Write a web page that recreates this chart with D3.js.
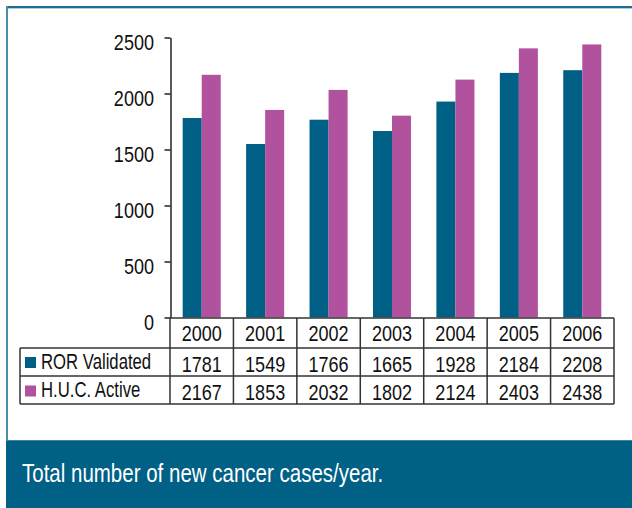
<!DOCTYPE html>
<html>
<head>
<meta charset="utf-8">
<script src="https://cdn.jsdelivr.net/npm/d3@7"></script>
<style>
  body { margin: 0; background: #fff; }
  svg { display: block; }
  text { font-family: "Liberation Sans", Arial, sans-serif; }
</style>
</head>
<body>
<div id="chart"></div>
<script>
const years = ["2000", "2001", "2002", "2003", "2004", "2005", "2006"];
const seriesNames = ["ROR Validated", "H.U.C. Active"];
const rorValues = [1781, 1549, 1766, 1665, 1928, 2184, 2208];
const hucValues = [2167, 1853, 2032, 1802, 2124, 2403, 2438];
const yTicks = [0, 500, 1000, 1500, 2000, 2500];
const caption = "Total number of new cancer cases/year.";

const colors = ["#005f85", "#b0529e"];
const width = 632;
const height = 508;

const svg = d3
  .select("#chart")
  .append("svg")
  .attr("width", width)
  .attr("height", height);

// condensed look: squeeze Liberation Sans horizontally
function addText(parent, x, y, str, size, sx, anchor) {
  return parent
    .append("text")
    .attr("transform", `translate(${x},${y}) scale(${sx},1)`)
    .attr("font-size", size + "px")
    .attr("text-anchor", anchor || "start")
    .attr("fill", "#111")
    .text(str);
}

// frame
svg.append("line")
  .attr("x1", 7).attr("x2", width).attr("y1", 7).attr("y2", 7)
  .attr("stroke", "#1f6d90").attr("stroke-width", 2);
svg.append("line")
  .attr("x1", 8).attr("x2", width).attr("y1", 8.5).attr("y2", 8.5)
  .attr("stroke", "#a9d0de").attr("stroke-width", 1);
svg.append("line")
  .attr("x1", 7).attr("x2", 7).attr("y1", 6).attr("y2", height)
  .attr("stroke", "#4b8eaa").attr("stroke-width", 2);

// footer band
svg.append("rect")
  .attr("x", 6).attr("y", 440)
  .attr("width", width - 6).attr("height", height - 440)
  .attr("fill", "#006085");
svg.append("line")
  .attr("x1", 6).attr("x2", width).attr("y1", 440.5).attr("y2", 440.5)
  .attr("stroke", "#3f84a3").attr("stroke-width", 1);
addText(svg, 22, 482, caption, 25, 0.82).attr("fill", "#fff");

// scales
const x = d3.scaleBand().domain(years).range([170, 614]).padding(0);
const groupW = x.bandwidth() * 0.6;
const xs = d3.scaleBand().domain(seriesNames).range([0, groupW]);
const y = d3.scaleLinear().domain([0, 2500]).range([317.5, 37.5]);

// y axis (labels drawn separately)
const yAxis = d3.axisLeft(y)
  .tickValues(yTicks)
  .tickSize(6)
  .tickSizeOuter(0)
  .tickFormat("");
const ag = svg.append("g")
  .attr("transform", "translate(170.5,0)")
  .call(yAxis);
ag.select(".domain").attr("stroke", "#222").attr("stroke-width", 1.5);
ag.selectAll(".tick line").attr("stroke", "#222").attr("stroke-width", 1.5);
yTicks.forEach((t) => {
  addText(svg, 154, y(t) + 12, String(t), 22, 0.82, "end");
});

// bars
const series = [rorValues, hucValues];
series.forEach((vals, si) => {
  svg.append("g")
    .selectAll("rect")
    .data(vals)
    .join("rect")
    .attr("x", (d, i) => x(years[i]) + (x.bandwidth() - groupW) / 2 + xs(seriesNames[si]))
    .attr("y", (d) => y(d))
    .attr("width", xs.bandwidth())
    .attr("height", (d) => y(0) - y(d))
    .attr("fill", colors[si]);
});

// data table
const rowTop = [318, 348, 376];
const rowBottom = 404;
const legendLeft = 20;
const tbl = svg.append("g")
  .attr("stroke", "#333")
  .attr("stroke-width", 1.5)
  .attr("fill", "none");

tbl.append("line").attr("x1", 170).attr("x2", 614).attr("y1", rowTop[0]).attr("y2", rowTop[0]);
[rowTop[1], rowTop[2], rowBottom].forEach((yy) => {
  tbl.append("line").attr("x1", legendLeft).attr("x2", 614).attr("y1", yy).attr("y2", yy);
});
tbl.append("line").attr("x1", legendLeft).attr("x2", legendLeft).attr("y1", rowTop[1]).attr("y2", rowBottom);
years.forEach((yr) => {
  tbl.append("line").attr("x1", x(yr)).attr("x2", x(yr)).attr("y1", rowTop[0]).attr("y2", rowBottom);
});
tbl.append("line").attr("x1", 614).attr("x2", 614).attr("y1", rowTop[0]).attr("y2", rowBottom);

// header row
years.forEach((yr) => {
  addText(svg, x(yr) + x.bandwidth() / 2, 341, yr, 22, 0.82, "middle");
});

// value rows with legend
const rowBase = [371.5, 400];
series.forEach((vals, si) => {
  const bl = rowBase[si];
  svg.append("rect")
    .attr("x", 25).attr("y", bl - 14.5)
    .attr("width", 11).attr("height", 11)
    .attr("fill", colors[si]);
  addText(svg, 41, bl - 3, seriesNames[si], 22, 0.76);
  vals.forEach((v, i) => {
    addText(svg, x(years[i]) + x.bandwidth() / 2, bl, String(v), 22, 0.82, "middle");
  });
});
</script>
</body>
</html>
